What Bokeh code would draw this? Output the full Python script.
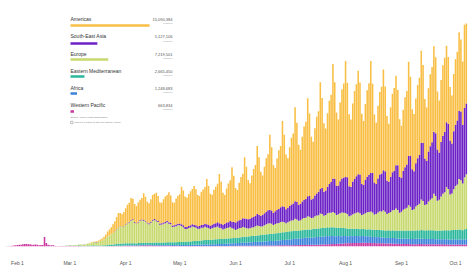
import pandas as pd
from bokeh.plotting import figure
from bokeh.models import ColumnDataSource, Range1d, FixedTicker, DatetimeTickFormatter
from bokeh.core.properties import value
from bokeh.embed import file_html
from bokeh.resources import INLINE

# ---------------- data (daily new cases, thousands) ----------------
start_date = "2020-01-22"
end_date = "2020-10-07"

regions = ["Americas", "South-East Asia", "Europe", "Eastern Mediterranean", "Africa", "Western Pacific"]
totals = [15090384, 5127106, 7219501, 2665450, 1248683, 663834]
total_labels = ["15,090,384", "5,127,106", "7,219,501", "2,665,450", "1,248,683", "663,834"]
colors = ["#F9BE44", "#6C22C6", "#C8D96F", "#2BB79C", "#3B82DB", "#C9379F"]
month_ticks = ["2020-02-01", "2020-03-01", "2020-04-01", "2020-05-01", "2020-06-01",
               "2020-07-01", "2020-08-01", "2020-09-01", "2020-10-01"]

western_pacific = [
    0.05, 0.05, 0.1,
    0.1, 0.2, 0.4, 0.8, 1.2, 1.5, 1.8,   # Jan 25
    2.1, 2.6, 2.8, 3.2, 3.9, 3.7, 3.2,   # Feb 1
    3.4, 2.7, 2.6, 3.0, 2.5, 2.0, 2.1,   # Feb 8
    2.4, 14.2, 5.1, 2.6, 2.0, 1.9, 1.8,  # Feb 15
    0.9, 0.6, 0.7, 0.6, 0.8, 0.6, 0.9,   # Feb 22
    0.9, 1.0, 0.8, 0.6, 0.7, 0.6, 0.6,   # Feb 29
    0.5, 0.4, 0.3, 0.3, 0.3, 0.2, 0.2,   # Mar 7
    0.3, 0.3, 0.2, 0.2, 0.3, 0.3, 0.4,   # Mar 14
    0.4, 0.5, 0.5, 0.6, 0.7, 0.8, 0.9,   # Mar 21
    0.9, 0.8, 0.9, 1.0, 1.1, 1.1, 1.2,   # Mar 28
    1.3, 1.2, 1.2, 1.1, 1.3, 1.4, 1.6,   # Apr 4
    1.6, 1.5, 1.7, 1.4, 1.4, 1.5, 1.3,   # Apr 11
    1.4, 1.3, 1.2, 1.2, 1.3, 1.1, 1.2,   # Apr 18
    1.1, 1.0, 0.9, 0.9, 1.0, 1.0, 0.9,   # Apr 25
    0.8, 0.8, 0.7, 0.8, 0.9, 0.8, 0.8,   # May 2
    0.9, 0.7, 0.7, 0.8, 0.8, 0.8, 0.9,   # May 9
    0.7, 0.6, 0.7, 0.6, 0.7, 0.7, 0.8,   # May 16
    0.8, 0.7, 0.7, 0.8, 0.9, 0.9, 1.0,   # May 23
    0.9, 1.0, 0.9, 1.0, 1.0, 1.1, 1.1,   # May 30
    1.2, 1.1, 1.1, 1.2, 1.2, 1.3, 1.3,   # Jun 6
    1.4, 1.3, 1.3, 1.4, 1.4, 1.5, 1.5,   # Jun 13
    1.6, 1.5, 1.5, 1.6, 1.6, 1.7, 1.7,   # Jun 20
    1.8, 1.7, 1.7, 1.8, 1.8, 1.9, 2.0,   # Jun 27
    2.1, 2.0, 2.1, 2.2, 2.3, 2.3, 2.4,   # Jul 4
    2.5, 2.4, 2.5, 2.6, 2.7, 2.8, 2.8,   # Jul 11
    3.0, 2.9, 3.0, 3.2, 3.3, 3.4, 3.6,   # Jul 18
    3.7, 3.6, 3.8, 4.0, 4.1, 4.3, 4.6,   # Jul 25
    4.8, 4.7, 5.0, 5.3, 5.1, 5.2, 5.4,   # Aug 1
    5.6, 5.4, 5.8, 5.5, 5.6, 5.3, 5.5,   # Aug 8
    5.2, 5.0, 5.1, 4.8, 5.0, 4.9, 4.8,   # Aug 15
    4.7, 4.5, 4.4, 4.6, 4.4, 4.3, 4.2,   # Aug 22
    4.1, 4.0, 3.9, 4.0, 3.8, 3.9, 3.8,   # Aug 29
    3.6, 3.5, 3.4, 3.5, 3.4, 3.5, 3.6,   # Sep 5
    3.7, 3.5, 3.3, 3.4, 3.5, 3.4, 3.3,   # Sep 12
    3.5, 3.3, 3.4, 3.2, 3.3, 3.4, 3.5,   # Sep 19
    3.1, 3.0, 2.9, 3.0, 3.1, 3.0, 3.1,   # Sep 26
    3.0, 2.9, 2.8, 3.0, 3.1,             # Oct 3
]

africa = [
    0, 0, 0,
    0, 0, 0, 0, 0, 0, 0,   # Jan 25
    0, 0, 0, 0, 0, 0, 0,   # Feb 1
    0, 0, 0, 0, 0, 0, 0,   # Feb 8
    0, 0, 0, 0, 0, 0, 0,   # Feb 15
    0, 0, 0, 0, 0, 0, 0,   # Feb 22
    0, 0, 0, 0, 0, 0.01, 0.01,                    # Feb 29
    0.01, 0.01, 0.01, 0.02, 0.02, 0.03, 0.03,     # Mar 7
    0.04, 0.05, 0.05, 0.06, 0.07, 0.09, 0.1,      # Mar 14
    0.13, 0.15, 0.18, 0.2, 0.22, 0.25, 0.3,       # Mar 21
    0.33, 0.36, 0.4, 0.42, 0.45, 0.5, 0.52,       # Mar 28
    0.55, 0.58, 0.6, 0.65, 0.7, 0.72, 0.75,       # Apr 4
    0.78, 0.8, 0.82, 0.85, 0.88, 0.9, 0.95,       # Apr 11
    1.0, 1.0, 1.05, 1.1, 1.1, 1.15, 1.2,          # Apr 18
    1.2, 1.25, 1.2, 1.3, 1.3, 1.35, 1.4,          # Apr 25
    1.4, 1.45, 1.5, 1.5, 1.6, 1.6, 1.7,           # May 2
    1.8, 1.9, 1.9, 2.0, 2.1, 2.2, 2.3,            # May 9
    2.3, 2.4, 2.5, 2.6, 2.7, 2.8, 2.9,            # May 16
    3.0, 3.1, 3.2, 3.3, 3.4, 3.5, 3.6,            # May 23
    3.8, 3.9, 4.0, 4.2, 4.3, 4.4, 4.6,            # May 30
    4.7, 4.8, 4.9, 5.0, 5.2, 5.3, 5.4,            # Jun 6
    5.6, 5.7, 5.9, 6.0, 6.2, 6.3, 6.5,            # Jun 13
    6.6, 6.7, 6.8, 7.0, 7.2, 7.3, 7.5,            # Jun 20
    7.8, 8.0, 8.3, 8.5, 8.7, 9.0, 9.2,            # Jun 27
    9.4, 9.6, 9.8, 10.0, 10.2, 10.4, 10.6,        # Jul 4
    10.6, 10.8, 10.9, 11.0, 11.2, 11.3, 11.5,     # Jul 11
    11.6, 11.8, 12.0, 12.1, 12.3, 12.0, 12.2,     # Jul 18
    12.0, 11.8, 11.5, 11.6, 11.3, 11.2, 11.0,     # Jul 25
    10.9, 10.8, 10.5, 10.4, 10.3, 10.4, 10.2,     # Aug 1
    10.2, 10.0, 9.9, 10.1, 9.8, 9.9, 9.7,         # Aug 8
    9.4, 9.2, 9.0, 8.9, 9.1, 8.8, 8.7,            # Aug 15
    8.8, 8.6, 8.4, 8.5, 8.3, 8.6, 8.4,            # Aug 22
    8.2, 8.1, 7.9, 8.0, 8.1, 7.9, 8.0,            # Aug 29
    8.1, 7.9, 8.0, 7.8, 8.2, 8.0, 7.9,            # Sep 5
    8.1, 8.0, 7.8, 7.9, 8.0, 7.7, 7.9,            # Sep 12
    7.6, 7.5, 7.4, 7.6, 7.5, 7.3, 7.5,            # Sep 19
    7.6, 7.4, 7.3, 7.5, 7.6, 7.4, 7.5,            # Sep 26
    7.6, 7.5, 7.2, 7.6, 7.8,                      # Oct 3
]

eastern_mediterranean = [
    0, 0, 0,
    0, 0, 0, 0, 0, 0, 0,   # Jan 25
    0, 0, 0, 0, 0, 0, 0,   # Feb 1
    0, 0, 0, 0, 0, 0, 0,   # Feb 8
    0, 0, 0, 0, 0, 0, 0,   # Feb 15
    0.01, 0.02, 0.05, 0.06, 0.1, 0.1, 0.12,       # Feb 22
    0.2, 0.4, 0.5, 0.6, 0.8, 0.6, 1.2,            # Feb 29
    1.1, 0.8, 0.6, 0.9, 1.1, 1.1, 1.3,            # Mar 7
    1.4, 1.2, 1.1, 1.3, 1.3, 1.2, 1.3,            # Mar 14
    1.4, 1.6, 1.9, 2.1, 2.2, 2.5, 2.8,            # Mar 21
    2.9, 3.0, 3.1, 3.0, 3.2, 3.4, 3.3,            # Mar 28
    3.2, 3.1, 3.0, 2.9, 3.1, 3.0, 3.1,            # Apr 4
    3.2, 3.1, 3.3, 3.2, 3.3, 3.4, 3.4,            # Apr 11
    3.5, 3.6, 3.5, 3.6, 3.7, 3.6, 3.8,            # Apr 18
    3.9, 4.0, 4.1, 4.3, 4.2, 4.4, 4.5,            # Apr 25
    4.6, 4.7, 4.9, 5.0, 5.1, 5.2, 5.4,            # May 2
    5.5, 5.7, 5.9, 6.0, 6.1, 6.3, 6.5,            # May 9
    6.6, 6.7, 6.9, 7.0, 7.1, 7.2, 7.3,            # May 16
    7.3, 7.4, 7.5, 7.4, 7.6, 7.7, 7.8,            # May 23
    7.8, 7.9, 8.0, 8.1, 8.2, 8.3, 8.5,            # May 30
    8.6, 8.8, 8.9, 9.0, 9.2, 9.3, 9.5,            # Jun 6
    9.6, 9.8, 9.9, 10.1, 10.2, 10.4, 10.5,        # Jun 13
    10.6, 10.8, 10.9, 11.1, 11.2, 11.3, 11.5,     # Jun 20
    11.6, 11.8, 11.9, 12.0, 12.2, 12.1, 12.3,     # Jun 27
    12.2, 12.0, 11.9, 12.1, 12.0, 12.2, 12.1,     # Jul 4
    12.3, 12.4, 12.2, 12.5, 12.6, 12.4, 12.7,     # Jul 11
    12.8, 12.9, 13.0, 12.8, 13.1, 13.2, 13.0,     # Jul 18
    13.2, 13.0, 12.8, 12.9, 12.6, 12.4, 12.0,     # Jul 25
    11.6, 11.2, 11.0, 10.9, 11.1, 10.8, 10.9,     # Aug 1
    10.7, 10.5, 10.4, 10.6, 10.5, 10.3, 10.6,     # Aug 8
    10.8, 10.9, 11.0, 11.1, 10.9, 11.2, 11.0,     # Aug 15
    11.0, 10.9, 11.1, 11.2, 11.0, 11.3, 11.2,     # Aug 22
    11.7, 11.8, 12.0, 12.1, 12.2, 12.0, 12.3,     # Aug 29
    12.4, 12.3, 12.5, 12.6, 12.4, 12.7, 12.6,     # Sep 5
    12.8, 12.9, 13.0, 13.1, 12.9, 13.2, 13.0,     # Sep 12
    13.1, 13.0, 12.8, 13.2, 13.1, 13.3, 13.2,     # Sep 19
    13.6, 13.8, 13.9, 14.1, 14.0, 14.3, 14.5,     # Sep 26
    14.8, 15.0, 14.5, 15.2, 15.5,                 # Oct 3
]

europe = [
    0, 0, 0,
    0, 0, 0, 0, 0, 0, 0,   # Jan 25
    0, 0, 0, 0, 0, 0, 0,   # Feb 1
    0, 0, 0, 0, 0, 0, 0,   # Feb 8
    0, 0, 0, 0, 0, 0, 0,   # Feb 15
    0.02, 0.05, 0.1, 0.1, 0.1, 0.2, 0.3,          # Feb 22
    0.3, 0.5, 0.5, 0.6, 0.8, 0.9, 1.2,            # Feb 29
    1.4, 1.8, 1.9, 2.0, 2.8, 3.2, 4.0,            # Mar 7
    4.5, 5.0, 5.2, 5.8, 6.5, 7.5, 8.6,            # Mar 14
    11, 13, 14, 15, 17, 19, 22,                   # Mar 21
    24, 26, 25, 26, 28, 30, 31,                   # Mar 28
    34, 35, 31, 29, 31, 33, 34,                   # Apr 4
    33, 32, 29, 28, 30, 33, 34,                   # Apr 11
    32, 31, 27, 27, 28, 29, 30,                   # Apr 18
    28, 27, 23, 23, 24, 25, 25,                   # Apr 25
    24, 22, 19, 19, 20, 21, 22,                   # May 2
    21, 20, 18, 18, 19, 19, 20,                   # May 9
    19, 18, 16, 17, 18, 18, 19,                   # May 16
    17, 16, 14, 15, 16, 16, 17,                   # May 23
    15, 14, 12, 13, 14, 14, 15,                   # May 30
    14, 13, 12, 12, 13, 13, 14,                   # Jun 6
    15, 14, 13, 13, 14, 15, 16,                   # Jun 13
    16, 15, 13, 14, 15, 15, 16,                   # Jun 20
    16, 15, 13, 14, 15, 16, 16,                   # Jun 27
    18, 17, 15, 15, 17, 18, 18,                   # Jul 4
    20, 19, 17, 17, 19, 20, 20,                   # Jul 11
    22, 21, 18, 19, 21, 22, 22,                   # Jul 18
    23, 22, 19, 20, 22, 23, 23,                   # Jul 25
    23, 22, 19, 20, 22, 23, 24,                   # Aug 1
    25, 24, 21, 22, 24, 26, 26,                   # Aug 8
    27, 26, 23, 24, 26, 28, 28,                   # Aug 15
    30, 28, 25, 26, 28, 30, 31,                   # Aug 22
    33, 31, 27, 28, 31, 33, 34,                   # Aug 29
    38, 36, 31, 32, 36, 38, 40,                   # Sep 5
    46, 44, 38, 39, 43, 46, 48,                   # Sep 12
    55, 52, 45, 46, 51, 55, 57,                   # Sep 19
    65, 62, 54, 55, 61, 66, 68,                   # Sep 26
    76, 74, 70, 78, 82,                           # Oct 3
]

south_east_asia = [
    0, 0, 0,
    0, 0, 0, 0, 0, 0, 0,   # Jan 25
    0, 0, 0, 0, 0, 0, 0,   # Feb 1
    0, 0, 0, 0, 0, 0, 0,   # Feb 8
    0, 0, 0, 0, 0, 0, 0,   # Feb 15
    0, 0, 0, 0, 0, 0, 0,   # Feb 22
    0, 0, 0, 0, 0, 0, 0,   # Feb 29
    0, 0.01, 0.01, 0.01, 0.01, 0.01, 0.02,        # Mar 7
    0.02, 0.02, 0.02, 0.03, 0.03, 0.04, 0.06,     # Mar 14
    0.07, 0.08, 0.1, 0.1, 0.12, 0.14, 0.18,       # Mar 21
    0.2, 0.25, 0.3, 0.4, 0.5, 0.6, 0.7,           # Mar 28
    0.8, 0.9, 0.9, 1.0, 1.0, 1.1, 1.2,            # Apr 4
    1.2, 1.3, 1.3, 1.4, 1.4, 1.5, 1.5,            # Apr 11
    1.6, 1.7, 1.7, 1.8, 1.9, 2.0, 2.0,            # Apr 18
    2.1, 2.2, 2.2, 2.3, 2.4, 2.5, 2.6,            # Apr 25
    2.7, 2.9, 3.0, 3.1, 3.2, 3.3, 3.4,            # May 2
    3.6, 3.7, 3.8, 4.0, 4.1, 4.3, 4.5,            # May 9
    4.8, 5.0, 5.2, 5.5, 5.7, 6.0, 6.3,            # May 16
    6.6, 7.0, 7.3, 7.6, 8.0, 8.4, 8.8,            # May 23
    9.5, 10.5, 11, 11.5, 12, 12.5, 13,            # May 30
    13.5, 14, 14, 14.5, 15, 15.5, 16,             # Jun 6
    17, 17, 16, 17, 18, 19, 20,                   # Jun 13
    20, 20, 18, 19, 20, 21, 22,                   # Jun 20
    23, 23, 21, 22, 23, 24, 25,                   # Jun 27
    26, 26, 24, 25, 26, 27, 28,                   # Jul 4
    30, 31, 28, 29, 31, 33, 35,                   # Jul 11
    37, 39, 36, 37, 40, 43, 46,                   # Jul 18
    50, 51, 44, 43, 48, 51, 53,                   # Jul 25
    54, 55, 45, 43, 49, 52, 55,                   # Aug 1
    57, 58, 47, 44, 50, 53, 56,                   # Aug 8
    58, 59, 48, 45, 51, 55, 57,                   # Aug 15
    60, 61, 50, 47, 53, 57, 59,                   # Aug 22
    65, 67, 54, 51, 58, 62, 65,                   # Aug 29
    74, 76, 61, 57, 65, 70, 73,                   # Sep 5
    85, 87, 70, 65, 75, 80, 84,                   # Sep 12
    93, 94, 77, 71, 82, 87, 91,                   # Sep 19
    97, 98, 81, 75, 87, 92, 96,                   # Sep 26
    102, 103, 88, 104, 106,                       # Oct 3
]

americas = [
    0, 0, 0,
    0, 0, 0, 0, 0, 0, 0,   # Jan 25
    0, 0, 0, 0, 0, 0, 0,   # Feb 1
    0, 0, 0, 0, 0, 0, 0,   # Feb 8
    0, 0, 0, 0, 0, 0, 0,   # Feb 15
    0, 0, 0, 0, 0, 0, 0,   # Feb 22
    0.01, 0.02, 0.03, 0.03, 0.04, 0.06, 0.08,     # Feb 29
    0.1, 0.15, 0.2, 0.25, 0.35, 0.5, 0.8,         # Mar 7
    0.9, 1.0, 1.3, 1.7, 2.3, 3.0, 4.2,            # Mar 14
    5, 7, 9, 11, 13, 15, 18,                      # Mar 21
    22, 20, 19, 21, 24, 27, 29,                   # Mar 28
    33, 31, 27, 26, 29, 31, 32,                   # Apr 4
    40, 36, 31, 30, 34, 37, 38,                   # Apr 11
    41, 37, 32, 31, 35, 38, 39,                   # Apr 18
    45, 41, 35, 34, 39, 42, 44,                   # Apr 25
    56, 52, 46, 44, 48, 51, 53,                   # May 2
    58, 54, 47, 45, 50, 53, 55,                   # May 9
    68, 58, 48, 45, 51, 55, 58,                   # May 16
    74, 63, 48, 43, 51, 58, 61,                   # May 23
    82, 69, 52, 47, 56, 64, 67,                   # May 30
    92, 78, 59, 53, 63, 72, 76,                   # Jun 6
    102, 86, 66, 59, 70, 80, 84,                  # Jun 13
    113, 95, 72, 65, 77, 88, 92,                  # Jun 20
    128, 108, 82, 74, 88, 100, 105,               # Jun 27
    141, 119, 90, 81, 97, 110, 116,               # Jul 4
    147, 124, 94, 85, 101, 115, 121,              # Jul 11
    160, 135, 103, 93, 110, 125, 131,             # Jul 18
    172, 145, 110, 99, 118, 134, 141,             # Jul 25
    174, 142, 108, 101, 117, 132, 138,            # Aug 1
    155, 138, 105, 96, 114, 130, 137,             # Aug 8
    168, 134, 102, 92, 109, 124, 130,             # Aug 15
    151, 127, 97, 87, 104, 118, 124,              # Aug 22
    134, 113, 86, 78, 92, 105, 110,               # Aug 29
    141, 119, 90, 86, 97, 110, 116,               # Sep 5
    138, 117, 89, 80, 95, 108, 113,               # Sep 12
    128, 114, 87, 78, 93, 106, 111,               # Sep 19
    115, 100, 80, 72, 86, 98, 103,                # Sep 26
    118, 108, 95, 125, 120,                       # Oct 3
]

# ---------------- figure ----------------
dates = pd.date_range(start_date, end_date, freq="D")
for s in (western_pacific, africa, eastern_mediterranean, europe, south_east_asia, americas):
    assert len(s) == len(dates), len(s)

src = ColumnDataSource(dict(
    date=dates,
    wp=western_pacific, af=africa, em=eastern_mediterranean,
    eu=europe, sea=south_east_asia, am=americas,
))

DAY = 86400000.0
W, H = 468, 269
FRAME_H = 246
PX_PER_DAY = 1.8025
feb1 = pd.Timestamp("2020-02-01").value / 1e6
x_start = feb1 - (17 / PX_PER_DAY) * DAY
x_end = x_start + (W / PX_PER_DAY) * DAY
K_PER_PX = 1.5

p = figure(width=W, height=H, output_backend="svg", toolbar_location=None,
           x_axis_type="datetime", y_axis_location=None,
           x_range=Range1d(x_start, x_end), y_range=Range1d(0, FRAME_H * K_PER_PX),
           min_border_left=0, min_border_right=0, min_border_top=0, min_border_bottom=H - FRAME_H)
p.outline_line_color = None
p.grid.visible = False
p.background_fill_color = "white"
p.border_fill_color = "white"

stack_keys = ["wp", "af", "em", "eu", "sea", "am"]
stack_colors = [colors[5], colors[4], colors[3], colors[2], colors[1], colors[0]]
p.vbar_stack(stack_keys, x="date", width=0.86 * DAY, color=stack_colors,
             line_color=None, source=src)

p.xaxis.ticker = FixedTicker(ticks=[pd.Timestamp(t).value / 1e6 for t in month_ticks])
fmt = "%b %-d"
p.xaxis.formatter = DatetimeTickFormatter(days=fmt, months=fmt, years=fmt, hours=fmt,
                                          hourmin=fmt, minutes=fmt)
p.xaxis.axis_line_color = None
p.xaxis.major_tick_line_color = None
p.xaxis.minor_tick_line_color = None
p.xaxis.major_tick_out = 0
p.xaxis.major_tick_in = 0
p.xaxis.minor_tick_out = 0
p.xaxis.minor_tick_in = 0
p.xaxis.major_label_standoff = 13
p.xaxis.major_label_text_font_size = "5px"
p.xaxis.major_label_text_color = "#555555"
p.xaxis.major_label_text_font = "Liberation Sans"

# ---------------- legend panel (drawn in pixel ranges) ----------------
p.extra_y_ranges = {"py": Range1d(FRAME_H, 0)}
legend_left = 70  # page px
bar_max_px = 79
kscale = max(totals) / bar_max_px
p.extra_x_ranges = {"px": Range1d(0, W),
                    "lb": Range1d(-legend_left * kscale, (W - legend_left) * kscale)}

name_y = [18, 35.5, 53, 70, 87, 104]
bar_y = [25, 43, 59, 76, 93, 111]
font = value("Liberation Sans")

p.text(x=[legend_left] * 6, y=name_y, text=regions, x_range_name="px", y_range_name="py",
       text_font=font, text_font_size="5px", text_color="#333333", text_baseline="middle")
p.hbar(y=bar_y, left=0, right=totals, height=2.6, color=colors, line_color=None,
       x_range_name="lb", y_range_name="py")
p.text(x=[172] * 6, y=[v + 0.8 for v in name_y], text=total_labels, x_range_name="px",
       y_range_name="py", text_font=font, text_font_size="4px", text_color="#555555",
       text_align="right", text_baseline="middle")
p.text(x=[172] * 6, y=[v + 4.8 for v in name_y], text=["confirmed"] * 6, x_range_name="px",
       y_range_name="py", text_font=font, text_font_size="2.2px", text_color="#999999",
       text_align="right", text_baseline="middle")
p.text(x=[legend_left], y=[117], text=["Source: World Health Organization"], x_range_name="px",
       y_range_name="py", text_font=font, text_font_size="2.4px", text_color="#777777",
       text_baseline="middle")
p.rect(x=[legend_left + 1.3], y=[122], width=2.4, height=2.4, fill_color=None,
       line_color="#888888", line_width=0.5, x_range_name="px", y_range_name="py")
p.text(x=[legend_left + 4], y=[122], text=["Click on a region to filter the chart by region"],
       x_range_name="px", y_range_name="py", text_font=font, text_font_size="2.4px",
       text_color="#777777", text_baseline="middle")

open("out.html", "w").write(file_html(p, INLINE))
